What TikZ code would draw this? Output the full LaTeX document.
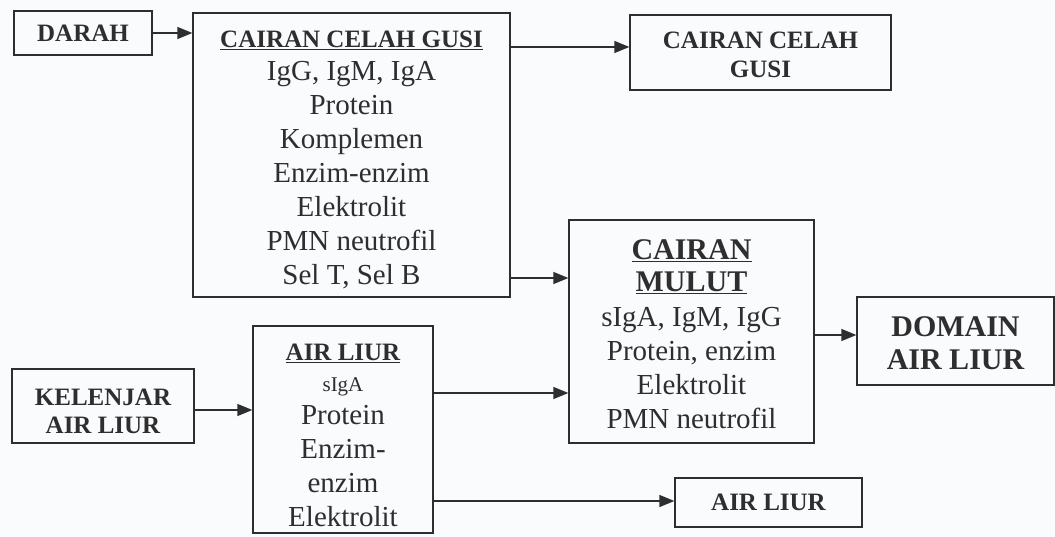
\documentclass[tikz,border=0pt]{standalone}
\usepackage{fontspec}
\setmainfont{Liberation Serif}
\usetikzlibrary{arrows.meta}
\definecolor{ink}{HTML}{2E2E2E}
\definecolor{paper}{HTML}{FAFBFD}
\tikzset{
  box/.style={draw=ink, line width=1.3pt, inner sep=0pt, align=center, text=ink,
    font=\fontsize{29}{34}\selectfont},
  arr/.style={draw=ink, line width=1.3pt, -{Triangle[length=15pt,width=12pt]}},
}
\newcommand{\ttl}[1]{{\fontsize{25}{30}\selectfont\bfseries #1}}
\newcommand{\uttl}[1]{{\fontsize{25}{30}\selectfont\bfseries\underline{#1}}}
\newcommand{\bigttl}[1]{{\fontsize{30}{32}\selectfont\bfseries\underline{#1}}}
\newcommand{\pushdown}[1]{\rule{0pt}{#1}}
\begin{document}
\begin{tikzpicture}[x=1pt,y=-1pt]
\fill[paper] (0,0) rectangle (1055,537);
\useasboundingbox (0,0) rectangle (1055,537);

\node[box, minimum width=138pt, minimum height=44pt] (darah) at (83,33) {\ttl{DARAH}};
\node[box, minimum width=317pt, minimum height=284pt] (ccg) at (351.5,155)
  {\pushdown{27pt}\uttl{CAIRAN CELAH GUSI}\\[-1pt] IgG, IgM, IgA\\ Protein\\ Komplemen\\ Enzim-enzim\\ Elektrolit\\ PMN neutrofil\\ Sel T, Sel B};
\node[box, minimum width=261pt, minimum height=75pt, font=\fontsize{25}{29}\selectfont\bfseries] (ccg2) at (760.5,52.5)
  {\pushdown{22pt}CAIRAN CELAH\\ GUSI};
\node[box, minimum width=245pt, minimum height=223pt] (cm) at (691.5,331.5)
  {\pushdown{26pt}\bigttl{CAIRAN}\\[-2pt] \bigttl{MULUT}\\[1pt] sIgA, IgM, IgG\\ Protein, enzim\\ Elektrolit\\ PMN neutrofil};
\node[box, minimum width=197pt, minimum height=88pt, font=\fontsize{30}{33}\selectfont\bfseries] (dom) at (955.5,341)
  {\pushdown{24pt}DOMAIN\\ AIR LIUR};
\node[box, minimum width=182pt, minimum height=74pt, font=\fontsize{25}{28}\selectfont\bfseries] (kel) at (103,406)
  {\pushdown{27pt}KELENJAR\\ AIR LIUR};
\node[box, minimum width=180pt, minimum height=207pt] (al) at (343,429.5)
  {\pushdown{29pt}\uttl{AIR LIUR}\\[-3pt] {\fontsize{21}{24}\selectfont sIgA}\\[-1pt] Protein\\ Enzim-\\ enzim\\ Elektrolit};
\node[box, minimum width=187pt, minimum height=49pt] (al2) at (768.5,502.5) {\ttl{AIR LIUR}};

\draw[arr] (darah.east) -- (darah.east -| ccg.west);
\draw[arr] (ccg.east |- 0,47) -- (ccg2.west |- 0,47);
\draw[arr] (ccg.east |- 0,278) -- (cm.west |- 0,278);
\draw[arr] (al.east |- 0,393) -- (cm.west |- 0,393);
\draw[arr] (cm.east |- 0,335) -- (dom.west |- 0,335);
\draw[arr] (kel.east |- 0,410) -- (al.west |- 0,410);
\draw[arr] (al.east |- 0,501) -- (al2.west |- 0,501);
\end{tikzpicture}
\end{document}
